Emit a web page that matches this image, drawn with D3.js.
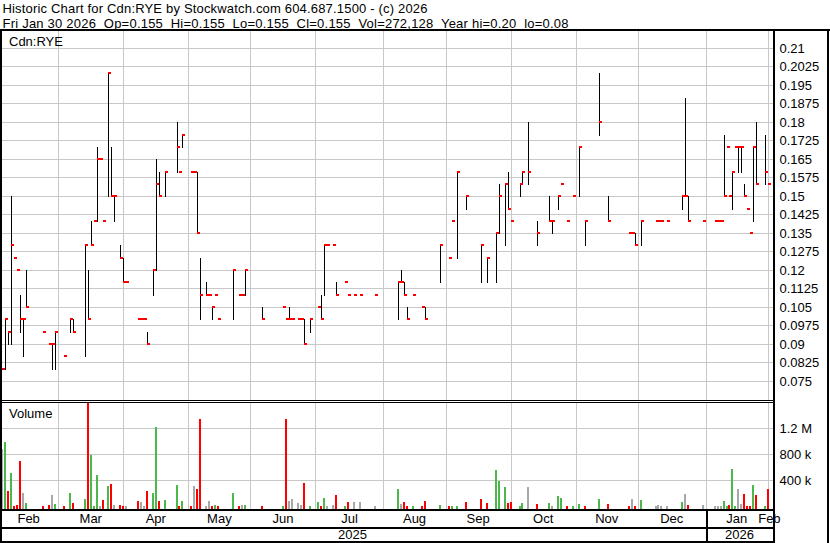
<!DOCTYPE html>
<html><head><meta charset="utf-8">
<script src="https://cdn.jsdelivr.net/npm/d3@7"></script>
<style>
html,body{margin:0;padding:0;background:#fff;}
svg{display:block;font-family:"Liberation Sans",Arial,sans-serif;}
text{white-space:pre;fill:#000;}
</style></head><body>
<svg id="chart" width="830" height="543"></svg>
<script>
// ---------------- data ----------------
const titleLines = [
  "Historic Chart for Cdn:RYE by Stockwatch.com 604.687.1500 - (c) 2026",
  "Fri Jan 30 2026  Op=0.155  Hi=0.155  Lo=0.155  Cl=0.155  Vol=272,128  Year hi=0.20  lo=0.08"
];
const symbolLabel = "Cdn:RYE";
const volumeLabel = "Volume";

const dates = [
"2025-02-03","2025-02-04","2025-02-05","2025-02-06","2025-02-07","2025-02-10","2025-02-11","2025-02-12","2025-02-13","2025-02-21",
"2025-02-25","2025-02-26","2025-02-27","2025-03-04","2025-03-06","2025-03-07","2025-03-13","2025-03-14","2025-03-17","2025-03-18",
"2025-03-19","2025-03-20","2025-03-21","2025-03-25","2025-03-26","2025-03-27","2025-03-31","2025-04-01","2025-04-02","2025-04-08",
"2025-04-09","2025-04-10","2025-04-11","2025-04-15","2025-04-16","2025-04-17","2025-04-21","2025-04-25","2025-04-28","2025-04-29",
"2025-05-02","2025-05-05","2025-05-06","2025-05-07","2025-05-09","2025-05-12","2025-05-13","2025-05-14","2025-05-15","2025-05-22",
"2025-05-26","2025-05-27","2025-05-28","2025-06-05","2025-06-16","2025-06-17","2025-06-18","2025-06-19","2025-06-23","2025-06-24",
"2025-06-25","2025-06-27","2025-07-02","2025-07-03","2025-07-04","2025-07-07","2025-07-09","2025-07-10","2025-07-15","2025-07-16",
"2025-07-18","2025-07-22","2025-07-29","2025-08-08","2025-08-11","2025-08-12","2025-08-13","2025-08-15","2025-08-20","2025-08-21",
"2025-08-28","2025-09-02","2025-09-03","2025-09-05","2025-09-10","2025-09-17","2025-09-19","2025-09-24","2025-09-25","2025-09-29",
"2025-09-30","2025-10-01","2025-10-06","2025-10-07","2025-10-09","2025-10-14","2025-10-20","2025-10-21","2025-10-23","2025-10-24",
"2025-10-28","2025-10-30","2025-11-03","2025-11-05","2025-11-12","2025-11-17","2025-11-26","2025-11-27","2025-11-28","2025-12-02",
"2025-12-09","2025-12-10","2025-12-11","2025-12-15","2025-12-22","2025-12-23","2025-12-24","2025-12-31","2026-01-06","2026-01-07",
"2026-01-08","2026-01-09","2026-01-12","2026-01-13","2026-01-14","2026-01-15","2026-01-16","2026-01-19","2026-01-20","2026-01-21",
"2026-01-22","2026-01-23","2026-01-26","2026-01-29","2026-01-30"
];
const lows = [
.08,.08,.09,.09,.125,.12,.095,.085,.105,.095,
.09,.08,.08,.085,.095,.095,.085,.10,.13,.14,
.14,.165,.14,.15,.15,.14,.125,.115,.115,.10,
.10,.10,.09,.11,.12,.15,.15,.16,.16,.17,
.16,.16,.135,.10,.11,.11,.10,.11,.10,.10,
.11,.11,.11,.10,.105,.10,.10,.10,.10,.10,
.09,.095,.105,.10,.11,.13,.13,.11,.115,.11,
.11,.11,.11,.10,.115,.11,.10,.11,.105,.10,
.115,.125,.14,.125,.145,.115,.115,.115,.135,.13,
.145,.14,.15,.155,.155,.13,.14,.135,.145,.155,
.14,.15,.15,.13,.175,.14,.135,.135,.13,.13,
.14,.14,.14,.14,.145,.15,.14,.14,.14,.14,
.14,.15,.17,.15,.145,.17,.16,.16,.15,.145,
.135,.14,.155,.155,.155
];
const highs = [
.08,.10,.095,.15,.125,.12,.11,.10,.12,.095,
.09,.09,.095,.085,.10,.10,.13,.12,.14,.14,
.17,.165,.14,.20,.17,.15,.13,.125,.115,.10,
.10,.10,.095,.12,.165,.16,.16,.18,.16,.175,
.16,.16,.16,.125,.115,.11,.105,.11,.10,.12,
.11,.11,.12,.105,.105,.10,.105,.10,.10,.10,
.10,.10,.105,.11,.13,.13,.13,.115,.115,.11,
.11,.11,.11,.115,.12,.115,.105,.11,.105,.105,
.13,.125,.14,.16,.15,.13,.125,.135,.155,.155,
.16,.14,.155,.16,.18,.14,.15,.14,.15,.155,
.14,.15,.17,.14,.20,.15,.135,.135,.135,.14,
.14,.14,.14,.14,.15,.19,.15,.14,.14,.14,
.14,.175,.17,.15,.16,.17,.17,.17,.155,.145,
.135,.17,.18,.175,.155
];
const closes = [
.08,.10,.095,.13,.125,.12,.10,.10,.105,.095,
.09,.09,.095,.085,.10,.095,.13,.10,.13,.14,
.165,.165,.14,.20,.15,.15,.125,.115,.115,.10,
.10,.10,.09,.12,.155,.15,.16,.17,.16,.175,
.16,.16,.135,.11,.11,.11,.105,.11,.10,.12,
.11,.11,.12,.10,.105,.10,.10,.10,.10,.10,
.09,.10,.105,.10,.13,.13,.13,.11,.115,.11,
.11,.11,.11,.115,.115,.11,.10,.11,.105,.10,
.13,.125,.14,.16,.15,.13,.125,.135,.15,.155,
.145,.14,.155,.16,.16,.135,.14,.14,.15,.155,
.14,.15,.17,.14,.18,.14,.135,.135,.13,.14,
.14,.14,.14,.14,.15,.15,.14,.14,.14,.14,
.14,.15,.17,.15,.16,.17,.17,.17,.15,.145,
.135,.17,.155,.16,.155
];
const volumes = [
880000,990000,235000,517000,10000,20000,697000,205000,51000,10000,
20000,174000,35000,8000,205000,51000,112000,1700000,789000,8000,
482000,8000,97000,312000,343000,20000,20000,10000,5000,82000,
66000,5000,235000,205000,1220000,82000,97000,328000,8000,82000,
5000,312000,266000,1340000,5000,82000,3000,20000,5000,205000,
5000,20000,20000,5000,8000,1340000,82000,112000,51000,20000,
358000,5000,66000,5000,128000,5000,20000,174000,5000,66000,
66000,66000,5000,266000,35000,71000,5000,5000,5000,82000,
25000,5000,5000,5000,66000,112000,51000,558000,389000,297000,
51000,66000,5000,51000,297000,35000,51000,5000,158000,128000,
5000,5000,35000,5000,112000,35000,5000,112000,5000,97000,
5000,20000,5000,5000,66000,189000,20000,20000,5000,5000,
5000,82000,5000,20000,574000,5000,266000,35000,189000,5000,
8000,328000,174000,5000,272128
];

const priceTicks = [0.21,0.2025,0.195,0.1875,0.18,0.1725,0.165,0.1575,0.15,0.1425,0.135,0.1275,0.12,0.1125,0.105,0.0975,0.09,0.0825,0.075];
const priceTickLabels = ["0.21","0.2025","0.195","0.1875","0.18","0.1725","0.165","0.1575","0.15","0.1425","0.135","0.1275","0.12","0.1125","0.105","0.0975","0.09","0.0825","0.075"];
const volumeTicks = [1200000, 800000, 400000];
const volumeTickLabels = ["1.2 M","800 k","400 k"];
const monthLabels = ["Feb","Mar","Apr","May","Jun","Jul","Aug","Sep","Oct","Nov","Dec","Jan","Feb"];
const yearLabels = ["2025","2026"];

// ---------------- helpers ----------------
const DAY = 864e5;
const originT = Date.UTC(2025,0,31);   // first weekday slot of the one-year window
function isWeekend(t){ const d = new Date(t).getUTCDay(); return d===0||d===6; }
function weekdayIndex(t){
  let n = 0;
  for (let u = originT + DAY; u <= t; u += DAY) if (!isWeekend(u)) n++;
  return n;
}
function parse(s){ return Date.parse(s + "T00:00:00Z"); }
function boundaryIndex(t){ while (isWeekend(t)) t -= DAY; return weekdayIndex(t); }

const svg = d3.select("#chart");
const x = d3.scaleLinear().domain([0, 260]).range([-0.914, 767.9]);
const yP = d3.scaleLinear().domain([0.075, 0.21]).range([381, 48.33]);
const yV = d3.scaleLinear().domain([0, 1600000]).range([506.3, 402.3]);
const px = i => Math.round(x(i));

const rows = dates.map((d,k) => ({
  i: weekdayIndex(parse(d)), lo: lows[k], hi: highs[k], cl: closes[k], vol: volumes[k],
  prev: k>0 ? closes[k-1] : closes[k]
}));

const PLOT_L = 2, PLOT_R = 773;
const GRID = "#c8c8c8";

// month boundaries
const monthStarts = d3.utcMonths(new Date(Date.UTC(2025,1,1)), new Date(Date.UTC(2026,1,2)));
const bIdx = monthStarts.map(m => boundaryIndex(m.getTime()));

// ---------------- grid ----------------
const g = svg.append("g").attr("shape-rendering","crispEdges");
g.selectAll(".hp").data(priceTicks).join("line")
  .attr("x1", PLOT_L).attr("x2", PLOT_R)
  .attr("y1", d => Math.floor(yP(d))+0.5).attr("y2", d => Math.floor(yP(d))+0.5)
  .attr("stroke", GRID);
g.selectAll(".hv").data(volumeTicks).join("line")
  .attr("x1", PLOT_L).attr("x2", PLOT_R)
  .attr("y1", d => Math.floor(yV(d))+0.5).attr("y2", d => Math.floor(yV(d))+0.5)
  .attr("stroke", GRID);
const vIdx = bIdx.filter(i => x(i) > 3);
vIdx.forEach(i => {
  const xx = px(i) + 0.5;
  g.append("line").attr("x1",xx).attr("x2",xx).attr("y1",31).attr("y2",400).attr("stroke",GRID);
  g.append("line").attr("x1",xx).attr("x2",xx).attr("y1",403).attr("y2",509).attr("stroke",GRID);
});

// ---------------- volume bars ----------------
const vb = svg.append("g").attr("shape-rendering","crispEdges");
vb.selectAll("rect").data(rows).join("rect")
  .attr("x", d => px(d.i) - 1)
  .attr("width", 2)
  .attr("y", d => Math.max(403, Math.round(yV(d.vol))))
  .attr("height", d => 509 - Math.max(403, Math.round(yV(d.vol))))
  .attr("fill", d => d.cl > d.prev ? "#4cb84c" : (d.cl < d.prev ? "#ff0000" : "#a8a8a8"));

// ---------------- price bars ----------------
const pb = svg.append("g").attr("shape-rendering","crispEdges");
pb.selectAll("rect.hl").data(rows.filter(d => d.hi > d.lo)).join("rect")
  .attr("class","hl")
  .attr("x", d => px(d.i))
  .attr("width", 1)
  .attr("y", d => Math.round(yP(d.hi)))
  .attr("height", d => Math.round(yP(d.lo)) - Math.round(yP(d.hi)) + 1)
  .attr("fill", "#000");
pb.selectAll("rect.cl").data(rows).join("rect")
  .attr("class","cl")
  .attr("x", d => px(d.i))
  .attr("width", 3)
  .attr("y", d => Math.round(yP(d.cl)) - 1)
  .attr("height", 2)
  .attr("fill", "#ff0000");

// ---------------- frame ----------------
const f = svg.append("g").attr("shape-rendering","crispEdges").attr("fill","#000");
f.append("rect").attr("x",0).attr("y",29).attr("width",830).attr("height",2);
f.append("rect").attr("x",0).attr("y",29).attr("width",2).attr("height",514);
f.append("rect").attr("x",773).attr("y",29).attr("width",2).attr("height",514);
f.append("rect").attr("x",827).attr("y",29).attr("width",2).attr("height",514);
f.append("rect").attr("x",0).attr("y",400).attr("width",775).attr("height",1);
f.append("rect").attr("x",0).attr("y",402).attr("width",775).attr("height",1);
f.append("rect").attr("x",0).attr("y",509).attr("width",775).attr("height",2);
f.append("rect").attr("x",0).attr("y",527).attr("width",775).attr("height",2);
f.append("rect").attr("x",0).attr("y",541).attr("width",775).attr("height",2);
const yearSplit = bIdx[11];
f.append("rect").attr("x",px(yearSplit)).attr("y",511).attr("width",2).attr("height",30);

// ---------------- text ----------------
const t = svg.append("g");
t.append("text").attr("x",2.5).attr("y",12.8).attr("font-size","13px")
  .attr("textLength",425).attr("lengthAdjust","spacing").text(titleLines[0]);
t.append("text").attr("x",2.5).attr("y",27.6).attr("font-size","13px")
  .attr("textLength",566).attr("lengthAdjust","spacing").text(titleLines[1]);
t.append("text").attr("x",9).attr("y",46).attr("font-size","13px").text(symbolLabel);
t.append("text").attr("x",9).attr("y",417.7).attr("font-size","13px").text(volumeLabel);

t.selectAll(".pl").data(priceTicks).join("text")
  .attr("x",779.5).attr("y", d => yP(d) + 4.5).attr("font-size","13px")
  .text((d,k) => priceTickLabels[k]);
t.selectAll(".vl").data(volumeTicks).join("text")
  .attr("x",779.5).attr("y", d => yV(d) + 4.5).attr("font-size","13px")
  .text((d,k) => volumeTickLabels[k]);

bIdx.forEach((b,k) => {
  const cx = k < bIdx.length-1 ? (x(b) + x(bIdx[k+1]))/2 : x(b) + 1.5;
  t.append("text").attr("x",cx).attr("y",523.3).attr("font-size","13px")
    .attr("text-anchor","middle").text(monthLabels[k]);
});
const yearSpans = [[x(0), x(yearSplit)], [x(yearSplit), PLOT_R]];
yearSpans.forEach((s,k) => {
  t.append("text").attr("x",(s[0]+s[1])/2).attr("y",539.2).attr("font-size","13px")
    .attr("text-anchor","middle").text(yearLabels[k]);
});
</script>
</body></html>
